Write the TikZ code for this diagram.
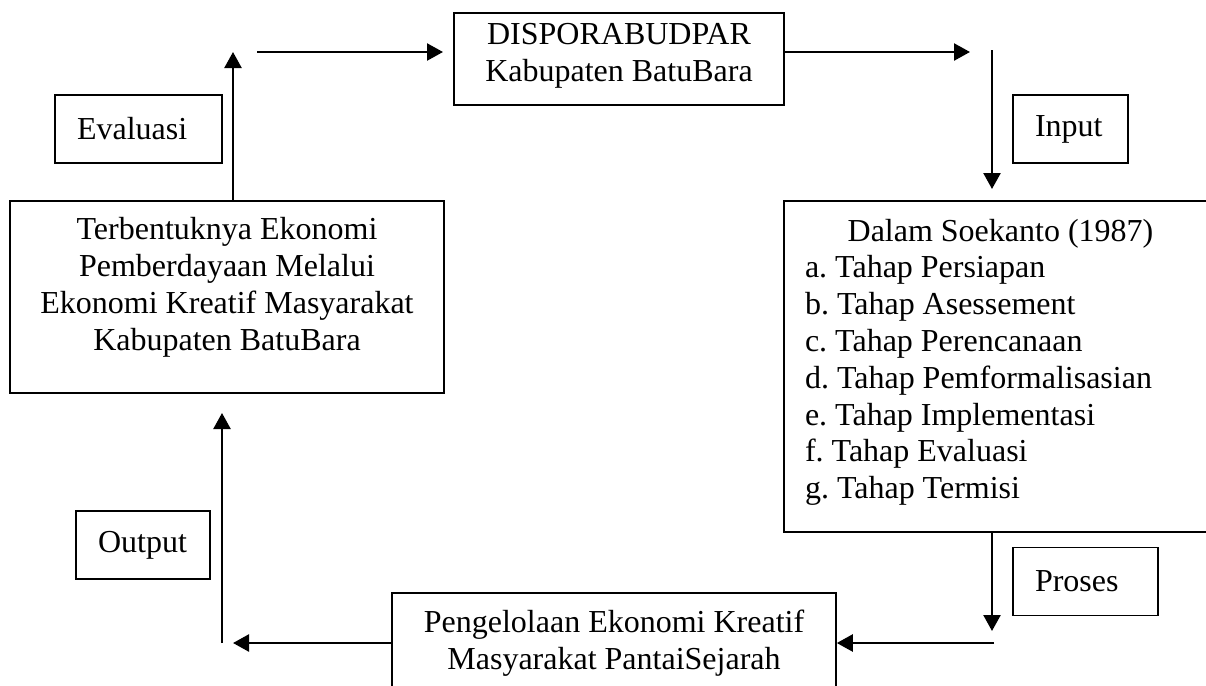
\documentclass[tikz,border=0pt]{standalone}
\usepackage{fontspec}
\setmainfont{Liberation Serif}
\usetikzlibrary{arrows.meta}
\frenchspacing
\newcommand\liftup[2]{\raisebox{#1}[\height][\depth]{#2}}
\begin{document}
\begin{tikzpicture}[x=0.5pt,y=-0.5pt,
  box/.style={draw, line width=0.8pt, inner sep=0pt, font=\fontsize{16}{18.4}\selectfont},
  tag/.style={box, align=left, inner xsep=11pt, minimum height=34pt},
  arr/.style={line width=1.2pt, -{Triangle[length=8pt,width=8.5pt]}}]
\useasboundingbox (0,0) rectangle (1206,686);
\clip (0,0) rectangle (1206,686);

% boxes
\node[box, minimum width=165pt, minimum height=46pt] (top) at (619,59)
  {\liftup{1.5pt}{\begin{tabular}{@{}c@{}}DISPORABUDPAR\\Kabupaten BatuBara\end{tabular}}};
\node[tag, text width=61.5pt] (eval) at (138.5,129) {Evaluasi};
\node[tag, text width=35.5pt] (inp) at (1070.5,129) {Input};
\node[tag, text width=45pt] (outp) at (143,545) {Output};
\node[tag, text width=50.5pt] (pros) at (1085.5,581.5) {Proses};
\node[box, minimum width=216.5pt, minimum height=165.5pt] (soek) at (1000.5,366.5)
  {\liftup{2pt}{\begin{tabular}{@{}l@{}}\makebox[195.5pt]{Dalam Soekanto (1987)}\\
   a. Tahap Persiapan\\ b. Tahap Asessement\\ c. Tahap Perencanaan\\
   d. Tahap Pemformalisasian\\ e. Tahap Implementasi\\ f. Tahap Evaluasi\\
   g. Tahap Termisi\end{tabular}}};
\node[box, minimum width=217pt, minimum height=96pt] (res) at (227,297)
  {\liftup{4.7pt}{\begin{tabular}{@{}c@{}}Terbentuknya Ekonomi\\Pemberdayaan Melalui\\
   Ekonomi Kreatif Masyarakat\\Kabupaten BatuBara\end{tabular}}};
\node[box, minimum width=222pt, minimum height=50pt, align=center] (peng) at (614,643)
  {Pengelolaan Ekonomi Kreatif\\Masyarakat PantaiSejarah};

% free ends
\coordinate (a1s) at (257,52);
\coordinate (a1e) at (443,52);
\coordinate (a2e) at (970,52);
\coordinate (a3s) at (992,50);
\coordinate (a3e) at (992,189);
\coordinate (a4e) at (992,631);
\coordinate (a5s) at (994,643);
\coordinate (a6e) at (233,643);
\coordinate (a7s) at (222,643);
\coordinate (a7e) at (222,413);
\coordinate (a8e) at (233,52);

% connectors
\draw[arr] (a1s) -- (a1e);
\draw[arr] (top.east |- a1e) -- (a2e);
\draw[arr] (a3s) -- (a3e);
\draw[arr] (soek.south -| a4e) -- (a4e);
\draw[arr] (a5s) -- (peng.east);
\draw[arr] (peng.west) -- (a6e);
\draw[arr] (a7s) -- (a7e);
\draw[arr] (res.north -| a8e) -- (a8e);
\end{tikzpicture}
\end{document}
